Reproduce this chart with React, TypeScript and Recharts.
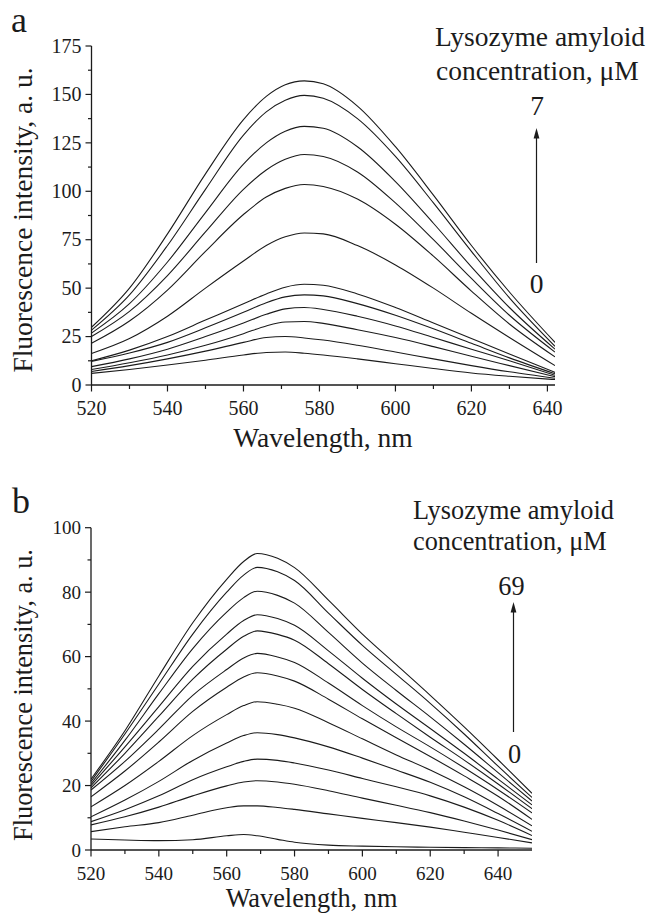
import { Line, LineChart, XAxis, YAxis } from 'recharts';

const FONT = "'Liberation Serif', 'Times New Roman', Times, serif";
const INK = '#1b1b1b';

// panel a: wavelength (nm) and 12 spectra, top curve first
const waveA = [520, 530, 540, 550, 560, 566, 571, 576, 581, 590, 600, 610, 620, 630, 642];
const a1 = [29.8, 50, 78, 109, 137, 149, 155, 157, 155.5, 144, 123, 98, 72, 48, 22];
const a2 = [28.3, 46.5, 72, 101, 129, 141, 147, 149.5, 148, 137.5, 118, 94, 69, 45, 20];
const a3 = [26.8, 42, 63.5, 89, 114, 125, 131, 133.5, 132.5, 123, 105, 83.5, 61, 40, 18.5];
const a4 = [25, 38, 56.5, 79, 101, 111, 116.5, 119, 118, 110, 94, 75, 55, 36, 17];
const a5 = [21.5, 33, 49, 69, 88, 97, 101.5, 103.5, 102.5, 96, 83, 66.5, 48.5, 31.5, 14.5];
const a6 = [16.3, 24, 35.5, 50, 64, 72, 76.5, 78.5, 78, 72, 62, 50, 37, 24.5, 10];
const a7 = [12.5, 18, 25, 33.5, 42, 47, 50.5, 52, 51.5, 47, 40, 32, 24, 16, 6.5];
const a8 = [12.2, 16.5, 22, 29.5, 37.5, 42.5, 45.5, 46.5, 46, 42, 36, 29, 21.5, 14, 5.8];
const a9 = [9.5, 13.5, 18.5, 25, 32, 36.5, 39.3, 40, 39, 35.5, 30.5, 24.5, 18.5, 12.5, 5];
const a10 = [8, 11.5, 15.5, 20.5, 26.5, 30.5, 32.5, 32.8, 31.8, 28.5, 24.5, 19.8, 14.8, 10, 4.3];
const a11 = [7, 10, 13.5, 17.5, 22, 24.5, 25, 24.3, 23.2, 20.5, 17, 13.5, 10, 6.8, 3.5];
const a12 = [6, 8, 10.3, 12.8, 15.5, 16.8, 17, 16.4, 15.5, 13.5, 11, 8.5, 6.2, 4.5, 2.8];
const curvesA = [a1, a2, a3, a4, a5, a6, a7, a8, a9, a10, a11, a12];

// panel b: 13 spectra
const waveB = [520, 530, 540, 550, 560, 565, 569, 575, 580, 590, 600, 610, 620, 630, 640, 650];
const b1 = [22, 37, 54, 70.5, 84, 89.5, 92, 90.5, 87.6, 77.5, 67, 57.5, 48, 38.2, 28, 17.6];
const b2 = [21.3, 36, 51.5, 67, 80, 85.3, 87.7, 86.3, 83.6, 73.5, 63.5, 54.5, 45.5, 36, 26, 16.3];
const b3 = [20.6, 34, 48.5, 62.5, 73.8, 78.3, 80.3, 79, 76.6, 67.5, 58, 49.5, 41.3, 32.8, 24, 15.2];
const b4 = [20, 32, 44.5, 57, 67, 71.2, 73, 71.8, 69.7, 61.8, 53.3, 45.3, 37.7, 30, 22, 14];
const b5 = [19.3, 30, 41.5, 53, 62.3, 66.3, 68, 66.9, 65.1, 57.8, 49.8, 42.3, 35, 27.9, 20.5, 12.8];
const b6 = [18.6, 27.5, 37.5, 48, 56, 59.6, 61, 59.9, 58.2, 51.8, 44.8, 38.2, 32, 25.5, 18.7, 11.5];
const b7 = [16.5, 24.5, 33.5, 43, 50.5, 53.7, 55, 54, 52.4, 46.8, 40.7, 34.8, 29, 23, 16.7, 9.5];
const b8 = [13.4, 20, 27.5, 35.5, 42, 44.8, 46, 45.2, 44, 39.5, 34.5, 29.5, 24.8, 19.6, 13.8, 7.5];
const b9 = [10.3, 15.5, 21.3, 27.8, 33.2, 35.5, 36.4, 35.8, 34.8, 32, 28.5, 24.8, 21, 16.5, 11.3, 5.8];
const b10 = [8.8, 12.5, 16.8, 21.8, 25.8, 27.5, 28.2, 27.8, 27, 24.8, 22.2, 19.6, 16.8, 13.3, 9.2, 4.5];
const b11 = [7.8, 10.3, 13.3, 16.8, 19.9, 21.1, 21.5, 21.1, 20.4, 18.4, 16.1, 13.9, 11.6, 9, 6.2, 3.2];
const b12 = [5.7, 7.2, 8.5, 10.8, 13.1, 13.7, 13.7, 13.2, 12.6, 11.2, 9.8, 8.5, 7.1, 5.5, 3.9, 2.2];
const b13 = [3.4, 3.1, 2.9, 3.2, 4.4, 4.8, 4.4, 3.3, 2.4, 1.5, 1.2, 1, 0.85, 0.75, 0.65, 0.55];
const curvesB = [b1, b2, b3, b4, b5, b6, b7, b8, b9, b10, b11, b12, b13];

// axis ticks (majors get labels, the rest are minor ticks)
const xTicksA = [520, 530, 540, 550, 560, 570, 580, 590, 600, 610, 620, 630, 640];
const xMajorsA = [520, 540, 560, 580, 600, 620, 640];
const yTicksA = [0, 12.5, 25, 37.5, 50, 62.5, 75, 87.5, 100, 112.5, 125, 137.5, 150, 162.5, 175];
const yMajorsA = [0, 25, 50, 75, 100, 125, 150, 175];
const xTicksB = [520, 530, 540, 550, 560, 570, 580, 590, 600, 610, 620, 630, 640];
const xMajorsB = [520, 540, 560, 580, 600, 620, 640];
const yTicksB = [0, 10, 20, 30, 40, 50, 60, 70, 80, 90, 100];
const yMajorsB = [0, 20, 40, 60, 80, 100];

function xTick(majors: number[], fontSize: number) {
  return (props: any) => {
    const { x, y, payload } = props;
    const major = majors.includes(payload.value);
    return (
      <g>
        <line x1={x} x2={x} y1={y} y2={y + (major ? 6.5 : 4)} stroke={INK} strokeWidth={1.2} />
        {major ? (
          <text x={x} y={y + 30} textAnchor="middle" fontSize={fontSize} style={{ fontFamily: FONT }} fill={INK}>
            {payload.value}
          </text>
        ) : null}
      </g>
    );
  };
}

function yTick(majors: number[], fontSize: number) {
  return (props: any) => {
    const { x, y, payload } = props;
    const major = majors.includes(payload.value);
    return (
      <g>
        <line x1={x - (major ? 6 : 3.5)} x2={x} y1={y} y2={y} stroke={INK} strokeWidth={1.2} />
        {major ? (
          <text x={x - 10} y={y + 6.7} textAnchor="end" fontSize={fontSize} style={{ fontFamily: FONT }} fill={INK}>
            {payload.value}
          </text>
        ) : null}
      </g>
    );
  };
}

type PanelProps = {
  top: number;
  height: number;
  margin: { top: number; right: number; bottom: number; left: number };
  waves: number[];
  curves: number[][];
  xDomain: [number, number];
  xTicks: number[];
  xMajors: number[];
  yDomain: [number, number];
  yTicks: number[];
  yMajors: number[];
  fontSize: number;
};

function Panel(p: PanelProps) {
  const rows = p.waves.map((w, i) => {
    const row: Record<string, number> = { w };
    p.curves.forEach((c, k) => {
      row['s' + k] = c[i];
    });
    return row;
  });
  return (
    <div style={{ position: 'absolute', left: 0, top: p.top }}>
      <LineChart width={649} height={p.height} data={rows} margin={p.margin}>
        <XAxis
          dataKey="w"
          type="number"
          domain={p.xDomain}
          ticks={p.xTicks}
          interval={0}
          allowDataOverflow
          height={40}
          tickSize={0}
          tickMargin={0}
          tickLine={false}
          axisLine={{ stroke: INK, strokeWidth: 1.3 }}
          tick={xTick(p.xMajors, p.fontSize)}
        />
        <YAxis
          type="number"
          domain={p.yDomain}
          ticks={p.yTicks}
          interval={0}
          allowDataOverflow
          width={60}
          tickSize={0}
          tickMargin={0}
          tickLine={false}
          axisLine={{ stroke: INK, strokeWidth: 1.3 }}
          tick={yTick(p.yMajors, p.fontSize)}
        />
        {p.curves.map((_, k) => (
          <Line
            key={k}
            dataKey={'s' + k}
            type="monotone"
            stroke={INK}
            strokeWidth={1.1}
            dot={false}
            activeDot={false}
            isAnimationActive={false}
          />
        ))}
      </LineChart>
    </div>
  );
}

export default function App() {
  return (
    <div style={{ position: 'absolute', left: 0, top: 0, width: 649, height: 914, background: '#fff', overflow: 'hidden' }}>
      <Panel
        top={0}
        height={460}
        margin={{ top: 46, right: 94, bottom: 35, left: 31.5 }}
        waves={waveA}
        curves={curvesA}
        xDomain={[520, 642]}
        xTicks={xTicksA}
        xMajors={xMajorsA}
        yDomain={[0, 175]}
        yTicks={yTicksA}
        yMajors={yMajorsA}
        fontSize={20}
      />
      <Panel
        top={457}
        height={457}
        margin={{ top: 70.7, right: 117, bottom: 24, left: 31 }}
        waves={waveB}
        curves={curvesB}
        xDomain={[520, 650]}
        xTicks={xTicksB}
        xMajors={xMajorsB}
        yDomain={[0, 100]}
        yTicks={yTicksB}
        yMajors={yMajorsB}
        fontSize={19}
      />
      <svg
        width={649}
        height={914}
        style={{ position: 'absolute', left: 0, top: 0, pointerEvents: 'none', fontFamily: FONT }}
        fill={INK}
      >
        {/* panel a annotations */}
        <text x={11} y={32} fontSize={36}>a</text>
        <text transform="translate(32,220) rotate(-90)" textAnchor="middle" fontSize={27.5}>
          Fluorescence intensity, a. u.
        </text>
        <text x={323} y={447} textAnchor="middle" fontSize={27.5}>Wavelength, nm</text>
        <text x={435} y={46} fontSize={27.5}>Lysozyme amyloid</text>
        <text x={436} y={80} fontSize={27.5}>concentration, μM</text>
        <text x={537} y={115} textAnchor="middle" fontSize={27.5}>7</text>
        <line x1={536.5} x2={536.5} y1={137} y2={263} stroke={INK} strokeWidth={1.2} />
        <polygon points="536.5,128 533.6,138.5 539.4,138.5" fill={INK} />
        <text x={536.5} y={293} textAnchor="middle" fontSize={27.5}>0</text>

        {/* panel b annotations */}
        <text x={12} y={513} fontSize={36}>b</text>
        <text transform="translate(32,695) rotate(-90)" textAnchor="middle" fontSize={26.3}>
          Fluorescence intensity, a. u.
        </text>
        <text x={311.5} y={907} textAnchor="middle" fontSize={26.3}>Wavelength, nm</text>
        <text x={413} y={519} fontSize={26.3}>Lysozyme amyloid</text>
        <text x={413} y={550} fontSize={26.3}>concentration, μM</text>
        <text x={511.5} y={595} textAnchor="middle" fontSize={26.3}>69</text>
        <line x1={513.5} x2={513.5} y1={611} y2={732} stroke={INK} strokeWidth={1.2} />
        <polygon points="513.5,602 510.6,612.5 516.4,612.5" fill={INK} />
        <text x={514.5} y={763} textAnchor="middle" fontSize={26.3}>0</text>
      </svg>
    </div>
  );
}
